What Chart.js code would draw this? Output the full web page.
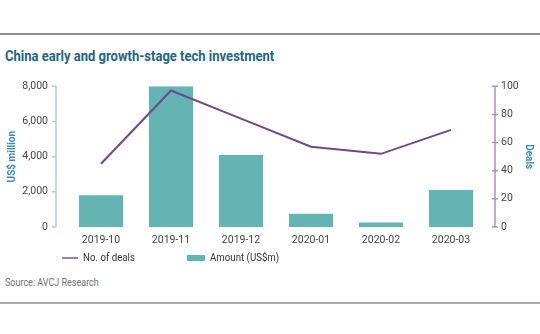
<!DOCTYPE html>
<html>
<head>
<meta charset="utf-8">
<script src="https://cdn.jsdelivr.net/npm/chart.js@4.4.1/dist/chart.umd.min.js"></script>
<style>
  html, body { margin: 0; padding: 0; background: #fff; }
  #wrap { position: relative; width: 540px; height: 334px; overflow: hidden; font-family: Roboto, 'Liberation Sans', sans-serif; }
  .rule { position: absolute; left: 0; width: 540px; height: 2px; background: #8f8f8f; }
  #title { position: absolute; left: 5px; top: 47px; font-size: 15px; line-height: 18px;
           font-weight: 700; color: #1f6486; white-space: nowrap; transform-origin: 0 0; }
  #chartBox { position: absolute; left: 0; top: 62px; width: 540px; height: 195px; }
  #legend { position: absolute; left: 0; top: 250px; width: 540px; height: 16px; font-size: 11px; color: #333; }
  #legend .item { position: absolute; top: 0; height: 16px; line-height: 16px; white-space: nowrap; }
  #legend .swatch { display: inline-block; vertical-align: middle; margin-right: 5px; }
  #legend .text { display: inline-block; vertical-align: middle; transform: scaleX(0.88); transform-origin: 0 50%; }
  #source { position: absolute; left: 5px; top: 276px; font-size: 10px; line-height: 13px; color: #6e6e6e;
            white-space: nowrap; transform: scaleX(0.9); transform-origin: 0 0; }
</style>
</head>
<body>
<div id="wrap">
  <div class="rule" style="top:33px"></div>
  <div id="title">China early and growth-stage tech investment</div>
  <div id="chartBox"><canvas id="dealsChart"></canvas></div>
  <div id="legend"></div>
  <div id="source">Source: AVCJ Research</div>
  <div class="rule" style="top:302px; background:#ababab"></div>
</div>
<script>
    // Monthly figures
    const months = ['2019-10', '2019-11', '2019-12', '2020-01', '2020-02', '2020-03'];
    const amountUsdM = [1800, 8000, 4100, 750, 250, 2100];
    const dealCount = [45, 97, 77, 57, 52, 69];
    const amountTicks = [0, 2000, 4000, 6000, 8000];
    const dealTicks = [0, 20, 40, 60, 80, 100];

    const tealBar = '#65b4b4';
    const purpleLine = '#6c4891';
    const axisFont = { family: "Roboto, 'Liberation Sans', sans-serif", size: 10.5 };
    const titleFont = { family: axisFont.family, size: 10, weight: 'bold' };
    const noGrid = { display: false, drawTicks: false };

    // squeeze the heading a little so it keeps its condensed look
    const titleEl = document.getElementById('title');
    titleEl.style.transform = 'scaleX(' + (269 / titleEl.offsetWidth).toFixed(3) + ')';

    // Axis lines sit a little away from the plot area, so draw them by hand
    const offsetAxes = {
        id: 'offsetAxes',
        afterDraw(chart) {
            const c = chart.ctx;
            const area = chart.chartArea;
            const yL = chart.scales.yAmount;
            const yR = chart.scales.yDeals;

            c.save();
            c.lineWidth = 1.5;

            // left axis
            const lx = area.left - 10;
            c.strokeStyle = '#a3d4d0';
            c.beginPath();
            c.moveTo(lx, yL.getPixelForValue(0));
            c.lineTo(lx, yL.getPixelForValue(8000));
            amountTicks.forEach(v => {
                const y = yL.getPixelForValue(v);
                c.moveTo(lx - 4, y);
                c.lineTo(lx, y);
            });
            c.stroke();

            // right axis
            const rx = area.right + 9;
            c.strokeStyle = '#aa92b8';
            c.beginPath();
            c.moveTo(rx, yR.getPixelForValue(0));
            c.lineTo(rx, yR.getPixelForValue(100));
            dealTicks.forEach(v => {
                const y = yR.getPixelForValue(v);
                c.moveTo(rx - 3, y);
                c.lineTo(rx + 3, y);
            });
            c.stroke();
            c.restore();
        }
    };

    const ctx = document.getElementById('dealsChart').getContext('2d');
    const dealsChart = new Chart(ctx, {
        data: {
            labels: months,
            datasets: [{
                type: 'line',
                label: 'No. of deals',
                data: dealCount,
                yAxisID: 'yDeals',
                borderColor: purpleLine,
                backgroundColor: purpleLine,
                borderWidth: 2,
                pointRadius: 0,
                tension: 0,
                order: 0
            }, {
                type: 'bar',
                label: 'Amount (US$m)',
                data: amountUsdM,
                yAxisID: 'yAmount',
                backgroundColor: tealBar,
                barPercentage: 0.63,
                categoryPercentage: 1.0,
                order: 1
            }]
        },
        options: {
            responsive: true,
            maintainAspectRatio: false,
            animation: false,
            layout: { padding: 0 },
            scales: {
                x: {
                    grid: noGrid,
                    border: { display: false },
                    ticks: { color: '#444', font: axisFont, padding: 7, maxRotation: 0 },
                    afterFit(scale) { scale.height = 30; }
                },
                yAmount: {
                    position: 'left',
                    min: 0,
                    max: 8000,
                    grid: noGrid,
                    border: { display: false },
                    afterBuildTicks(scale) { scale.ticks = amountTicks.map(v => ({ value: v })); },
                    ticks: { color: '#444', font: axisFont, padding: 18 },
                    title: { display: true, text: 'US$ million', color: '#3a8db2', font: titleFont, padding: { top: 6, bottom: 0 } },
                    afterFit(scale) { scale.width = 66; }
                },
                yDeals: {
                    position: 'right',
                    min: 0,
                    max: 100,
                    grid: noGrid,
                    border: { display: false },
                    afterBuildTicks(scale) { scale.ticks = dealTicks.map(v => ({ value: v })); },
                    ticks: { color: '#444', font: axisFont, padding: 15 },
                    title: { display: true, text: 'Deals', color: '#3a8db2', font: titleFont, padding: { top: 6, bottom: 0 } },
                    afterFit(scale) { scale.width = 54; }
                }
            },
            plugins: {
                legend: { display: false },
                tooltip: { enabled: false }
            }
        },
        plugins: [offsetAxes]
    });

    // Legend below the axis, built from the datasets
    const legendSlots = [62, 187];
    const legendEl = document.getElementById('legend');
    dealsChart.data.datasets.forEach((ds, i) => {
        const item = document.createElement('div');
        item.className = 'item';
        item.style.left = legendSlots[i] + 'px';
        const sw = document.createElement('span');
        sw.className = 'swatch';
        if (ds.type === 'line') {
            sw.style.width = '16px';
            sw.style.height = '2px';
            sw.style.background = '#9a7fb0';
        } else {
            sw.style.width = '18px';
            sw.style.height = '6px';
            sw.style.background = ds.backgroundColor;
        }
        const txt = document.createElement('span');
        txt.className = 'text';
        txt.textContent = ds.label;
        item.appendChild(sw);
        item.appendChild(txt);
        legendEl.appendChild(item);
    });
</script>
</body>
</html>
